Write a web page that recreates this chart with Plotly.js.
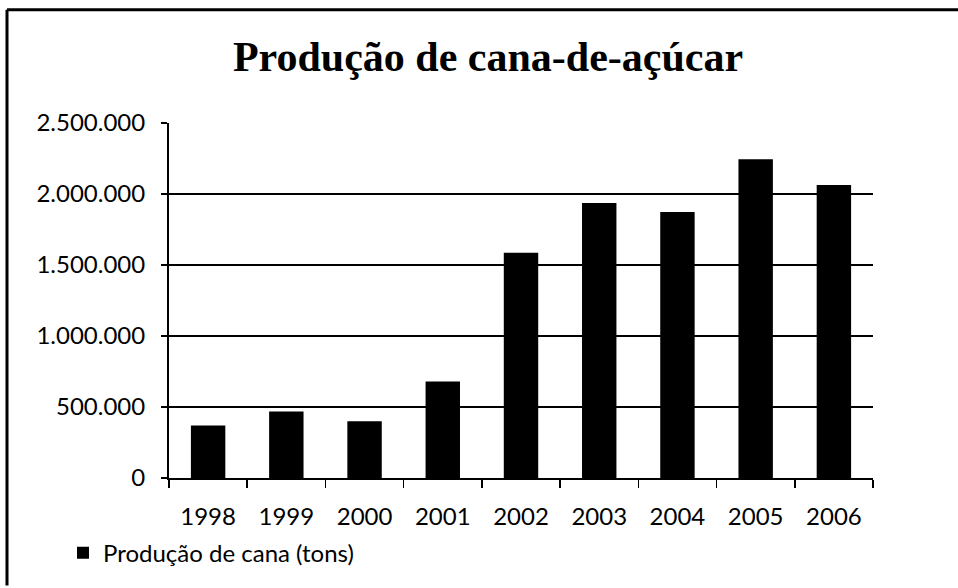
<!DOCTYPE html>
<html>
<head>
<meta charset="utf-8">
<script src="https://cdn.plot.ly/plotly-3.0.1.min.js"></script>
<style>html,body{margin:0;padding:0;background:#fff;}#chart{width:958px;height:588px;}</style>
</head>
<body>
<div id="chart"></div>
<script>
const years = ['1998','1999','2000','2001','2002','2003','2004','2005','2006'];
const production = [370000, 468000, 400000, 680000, 1587000, 1937000, 1874000, 2245000, 2063000];
const seriesName = 'Produção de cana (tons)';
const chartTitle = 'Produção de cana-de-açúcar';
const yTicks = [0, 500000, 1000000, 1500000, 2000000, 2500000];

const L = 169, R = 85, T = 123, B = 108, W = 958, H = 588;
const pw = W - L - R, ph = H - T - B;
const px = x => (x - L) / pw;
const py = y => (H - B - y) / ph;

const trace = {
  type: 'bar', x: years, y: production, name: seriesName,
  marker: {color: '#000', line: {width: 0}},
  showlegend: true, hoverinfo: 'x+y'
};

const tickFont = {family: 'Lato, Open Sans, sans-serif', size: 24, color: '#000'};

const layout = {
  width: W, height: H,
  margin: {l: L, r: R, t: T, b: B, pad: 0},
  paper_bgcolor: '#fff', plot_bgcolor: '#fff',
  separators: ',.',
  bargap: 0.56,
  showlegend: true,
  title: {text: '<b>' + chartTitle + '</b>', x: 488 / W, xanchor: 'center', y: 1 - 56 / H, yanchor: 'middle',
          font: {family: 'Liberation Serif, Times New Roman, serif', size: 42, color: '#000'}},
  xaxis: {type: 'category', showgrid: false, showline: true, linecolor: '#000', linewidth: 2,
          ticks: 'outside', tickson: 'boundaries', ticklen: 8, tickwidth: 1.5, tickcolor: '#000',
          ticklabelstandoff: 16, tickfont: tickFont, fixedrange: true},
  yaxis: {range: [0, 2500000], tickvals: yTicks, tickformat: ',d', showgrid: true, gridcolor: '#000', gridwidth: 2,
          showline: true, linecolor: '#000', linewidth: 2, zeroline: false,
          ticks: 'outside', ticklen: 6, tickwidth: 1.5, tickcolor: '#000', ticklabelstandoff: 11,
          tickfont: tickFont, fixedrange: true},
  legend: {x: px(63), xanchor: 'left', y: py(533), yanchor: 'top', orientation: 'h',
           font: {family: 'Lato, Open Sans, sans-serif', size: 24, color: '#000'}, bgcolor: 'rgba(0,0,0,0)'},
  shapes: [
    {type: 'line', xref: 'paper', yref: 'paper', x0: px(7), x1: px(W), y0: py(9), y1: py(9), line: {color: '#000', width: 3}},
    {type: 'line', xref: 'paper', yref: 'paper', x0: px(7), x1: px(7), y0: py(9), y1: py(H), line: {color: '#000', width: 3}}
  ]
};

Plotly.newPlot('chart', [trace], layout, {displayModeBar: false, staticPlot: true});
</script>
</body>
</html>
